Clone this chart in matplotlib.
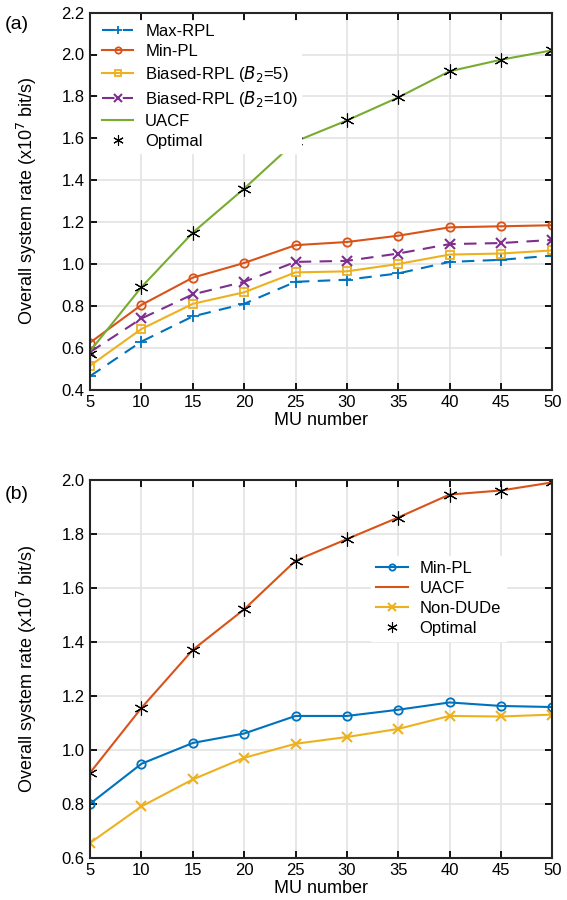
import numpy as np
import matplotlib.pyplot as plt

plt.rcParams['font.family'] = ['Liberation Sans', 'DejaVu Sans']

mu = [5, 10, 15, 20, 25, 30, 35, 40, 45, 50]

# panel (a)
a_max_rpl = [0.465, 0.63, 0.75, 0.81, 0.915, 0.925, 0.955, 1.01, 1.02, 1.04]
a_min_pl = [0.625, 0.805, 0.935, 1.005, 1.09, 1.105, 1.135, 1.175, 1.18, 1.185]
a_biased5 = [0.515, 0.69, 0.81, 0.865, 0.96, 0.965, 1.0, 1.045, 1.05, 1.065]
a_biased10 = [0.58, 0.74, 0.855, 0.915, 1.01, 1.015, 1.05, 1.095, 1.10, 1.115]
a_uacf = [0.585, 0.89, 1.15, 1.36, 1.585, 1.685, 1.795, 1.92, 1.975, 2.02]
a_optimal = [0.57, 0.89, 1.15, 1.36, 1.585, 1.685, 1.795, 1.92, 1.975, 2.02]

# panel (b)
b_min_pl = [0.80, 0.948, 1.025, 1.06, 1.125, 1.125, 1.148, 1.175, 1.162, 1.158]
b_uacf = [0.915, 1.155, 1.37, 1.52, 1.70, 1.78, 1.86, 1.945, 1.96, 1.99]
b_non_dude = [0.655, 0.79, 0.89, 0.97, 1.022, 1.047, 1.077, 1.125, 1.123, 1.13]
b_optimal = [0.915, 1.155, 1.37, 1.52, 1.70, 1.78, 1.86, 1.945, 1.96, 1.99]

blue = '#0072BD'
orange = '#D95319'
yellow = '#EDB120'
purple = '#7E2F8E'
green = '#77AC30'
star = (6, 2, 0)  # asterisk marker

fig = plt.figure(figsize=(5.67, 9), dpi=100)
ax1 = fig.add_axes([0.159, 0.567, 0.815, 0.419])
ax2 = fig.add_axes([0.159, 0.047, 0.815, 0.420])

ylab = 'Overall system rate (x10$^7$ bit/s)'


def style(ax, ylim, yticks):
    ax.set_xlim(5, 50)
    ax.set_ylim(*ylim)
    ax.set_xticks(mu)
    ax.set_yticks(yticks)
    ax.set_yticklabels(['%.1f' % t for t in yticks])
    ax.grid(True, color='#e3e3e3', linewidth=1.2)
    ax.set_axisbelow(True)
    ax.tick_params(direction='in', length=5, width=1.3, labelsize=12,
                   top=True, right=True, pad=4)
    for s in ax.spines.values():
        s.set_linewidth(1.5)
        s.set_color('#262626')
    ax.set_xlabel('MU number', fontsize=13, labelpad=1)
    ax.set_ylabel(ylab, fontsize=13, labelpad=16)


ax1.plot(mu, a_max_rpl, '--+', color=blue, lw=1.5, ms=8, mew=1.3,
         dashes=(6, 4), label='Max-RPL')
ax1.plot(mu, a_min_pl, '-o', color=orange, lw=1.5, ms=6, mfc='none', mew=1.3,
         label='Min-PL')
ax1.plot(mu, a_biased5, '-s', color=yellow, lw=1.5, ms=5.5, mfc='none', mew=1.3,
         label='Biased-RPL ($B_2$=5)')
ax1.plot(mu, a_biased10, '--x', color=purple, lw=1.5, ms=7, mew=1.5,
         dashes=(6, 4), label='Biased-RPL ($B_2$=10)')
ax1.plot(mu, a_uacf, '-', color=green, lw=1.5, label='UACF')
ax1.plot(mu, a_optimal, ls='none', color='black', ms=10, mew=0.8,
         marker=star, label='Optimal')
style(ax1, (0.4, 2.2), np.arange(0.4, 2.21, 0.2))
ax1.legend(loc='upper left', fontsize=12, frameon=True, fancybox=False,
           edgecolor='white', framealpha=1, handlelength=1.9, markerscale=0.75,
           borderpad=0.2, labelspacing=0.3, handletextpad=0.7,
           bbox_to_anchor=(0.0, 1.0))

ax2.plot(mu, b_min_pl, '-o', color=blue, lw=1.5, ms=6, mfc='none', mew=1.3,
         label='Min-PL')
ax2.plot(mu, b_uacf, '-', color=orange, lw=1.5, label='UACF')
ax2.plot(mu, b_non_dude, '-x', color=yellow, lw=1.5, ms=7, mew=1.5,
         label='Non-DUDe')
ax2.plot(mu, b_optimal, ls='none', color='black', ms=10, mew=0.8,
         marker=star, label='Optimal')
style(ax2, (0.6, 2.0), np.arange(0.6, 2.01, 0.2))
ax2.legend(loc='upper left', bbox_to_anchor=(0.59, 0.82), fontsize=12,
           frameon=True, fancybox=False, edgecolor='white', framealpha=1,
           handlelength=1.9, markerscale=0.75, handletextpad=0.7,
           borderpad=0.3, labelspacing=0.3)

fig.text(0.008, 0.968, '(a)', fontsize=14)
fig.text(0.008, 0.446, '(b)', fontsize=14)

fig.savefig('out.png', dpi=100)
